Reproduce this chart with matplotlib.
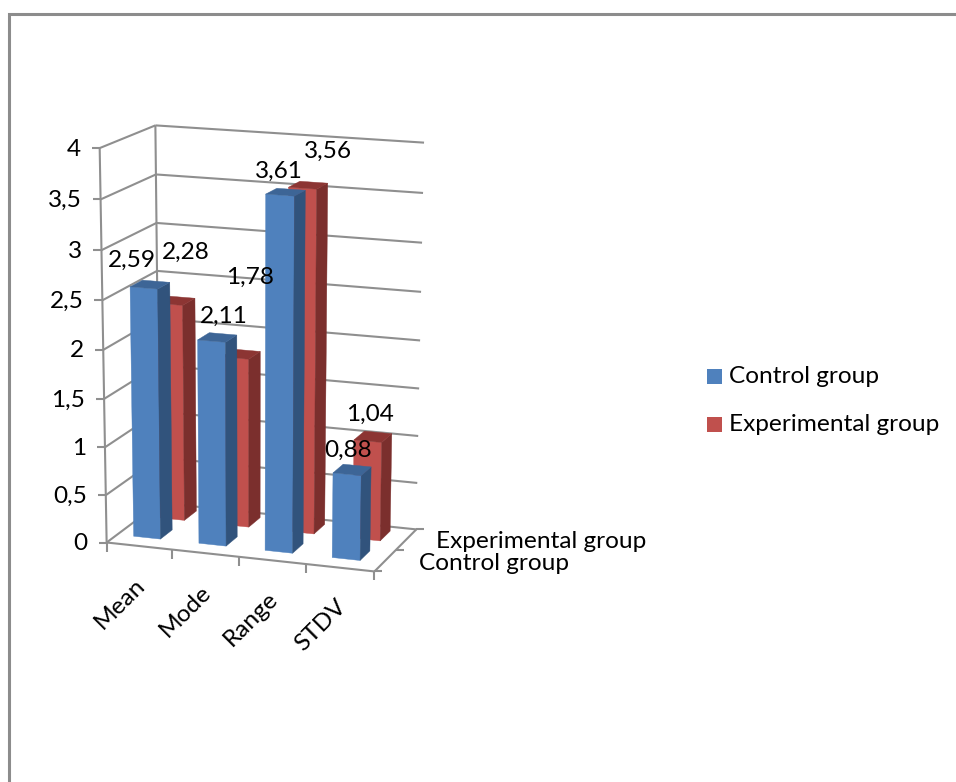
import numpy as np
import matplotlib
matplotlib.use("Agg")
import matplotlib.pyplot as plt
from matplotlib.patches import Polygon, Rectangle

plt.rcParams["font.family"] = ["Lato", "DejaVu Sans"]

categories = ["Mean", "Mode", "Range", "STDV"]
series_names = ["Control group", "Experimental group"]
control = [2.59, 2.11, 3.61, 0.88]
experimental = [2.28, 1.78, 3.56, 1.04]
y_ticks = [0, 0.5, 1, 1.5, 2, 2.5, 3, 3.5, 4]
y_tick_labels = ["0", "0,5", "1", "1,5", "2", "2,5", "3", "3,5", "4"]

# screen position of the chart box corners: (across, depth, value) -> pixel
box_world = [(0, 0, 0), (0, 0, 2), (0, 0, 4), (0, 1, 0), (0, 1, 2), (0, 1, 4),
             (1, 1, 0), (1, 1, 2), (1, 1, 4), (1, 0, 0)]
box_pixel = [(107, 541), (103, 349), (99, 149), (160, 505), (157, 318), (156, 125),
             (415, 528), (421, 340), (424, 143), (375, 573)]

GRID = "#8f8f8f"
BLUE = ("#4f81bd", "#31537c", "#3d6596")    # front, side, top
RED = ("#c0504d", "#7b2f2d", "#8c3533")
FONT = 17.6


def fit_projection(world, pixel):
    # least squares for a 3x4 projective camera with the last term fixed to 1
    rows, rhs = [], []
    for (x, d, z), (px, py) in zip(world, pixel):
        rows.append([x, d, z, 1, 0, 0, 0, 0, -px * x, -px * d, -px * z])
        rhs.append(px)
        rows.append([0, 0, 0, 0, x, d, z, 1, -py * x, -py * d, -py * z])
        rhs.append(py)
    sol = np.linalg.lstsq(np.array(rows, float), np.array(rhs, float), rcond=None)[0]
    return np.append(sol, 1.0).reshape(3, 4)


P = fit_projection(box_world, box_pixel)


def project(x, d, z):
    q = P @ np.array([x, d, z, 1.0])
    return q[0] / q[2], q[1] / q[2]


def draw_bar(ax, x0, x1, d0, d1, value, colors):
    # only the three faces turned towards the viewer
    front = [project(x0, d0, 0), project(x1, d0, 0), project(x1, d0, value), project(x0, d0, value)]
    side = [project(x1, d0, 0), project(x1, d1, 0), project(x1, d1, value), project(x1, d0, value)]
    top = [project(x0, d0, value), project(x1, d0, value), project(x1, d1, value), project(x0, d1, value)]
    for face, col in zip((front, side, top), colors):
        ax.add_patch(Polygon(face, closed=True, facecolor=col, edgecolor=col, lw=0.3, zorder=3))


def seg(ax, a, b, lw=1.5, color=GRID):
    ax.plot([a[0], b[0]], [a[1], b[1]], color=color, lw=lw, solid_capstyle="butt", zorder=2)


fig = plt.figure(figsize=(9.56, 7.82), dpi=100)
ax = fig.add_axes([0, 0, 1, 1])
ax.set_xlim(0, 956)
ax.set_ylim(782, 0)
ax.axis("off")

# outer frame, only left and top fall inside the canvas
ax.plot([9, 9, 956], [782, 13.5, 13.5], color="#8c8c8c", lw=2.2, solid_joinstyle="miter")

# walls and floor
for t, lab in zip(y_ticks, y_tick_labels):
    fl = project(0, 0, t)
    bl = project(0, 1, t)
    br = project(1, 1, t)
    seg(ax, fl, bl)
    seg(ax, bl, br)
    seg(ax, (fl[0] - 8, fl[1]), fl)
    ax.text(fl[0] - 19, fl[1] + 1, lab, ha="right", va="center", fontsize=FONT, color="black")
seg(ax, project(0, 0, 0), project(0, 0, 4))
seg(ax, project(0, 1, 0), project(0, 1, 4))
seg(ax, project(0, 0, 0), project(1, 0, 0))
seg(ax, project(1, 0, 0), project(1, 1, 0))

n = len(categories)
for i in range(n + 1):
    p = project(i / n, 0, 0)
    seg(ax, p, (p[0], p[1] + 9))
for d in (0, 0.5, 1):
    p = project(1, d, 0)
    seg(ax, p, (p[0] + 8, p[1]))

# bars, the far row goes first so the near row covers it
start = 0.063
width = 0.103
near = (0.195, 0.42)
far = (0.66, 0.90)
for i in range(n):
    x0 = i / n + start
    draw_bar(ax, x0, x0 + width, far[0], far[1], experimental[i], RED)
for i in range(n):
    x0 = i / n + start
    draw_bar(ax, x0, x0 + width, near[0], near[1], control[i], BLUE)

# value labels sit where the chart application pushed them, relative to the bar top
control_offsets = [(-12, -28), (12, -25), (-1, -24), (1, -24)]
experimental_offsets = [(17, -52), (15, -81), (25, -37), (2, -27)]
for i in range(n):
    x0 = i / n + start
    for vals, offs, d in ((control, control_offsets, near[0]), (experimental, experimental_offsets, far[0])):
        px, py = project(x0 + width / 2, d, vals[i])
        ax.text(px + offs[i][0], py + offs[i][1], f"{vals[i]:.2f}".replace(".", ","),
                ha="center", va="center", fontsize=FONT, color="black", zorder=5)

# category labels under the front edge
for i, name in enumerate(categories):
    px, py = project((i + 0.5) / n, 0, 0)
    ax.text(px - 5, py + 28, name, rotation=45, rotation_mode="anchor", ha="right", va="top",
            fontsize=FONT, color="black")

# depth axis labels
ax.text(419, 563, series_names[0], ha="left", va="center", fontsize=FONT, color="black", zorder=5)
ax.text(436, 541, series_names[1], ha="left", va="center", fontsize=FONT, color="black", zorder=5)

# legend
for name, col, y in zip(series_names, (BLUE[0], RED[0]), (376.5, 424.5)):
    ax.add_patch(Rectangle((707, y - 7.5), 15, 15, facecolor=col, edgecolor="none"))
    ax.text(729, y, name, ha="left", va="center", fontsize=FONT, color="black")

fig.savefig("out.png", dpi=100)
